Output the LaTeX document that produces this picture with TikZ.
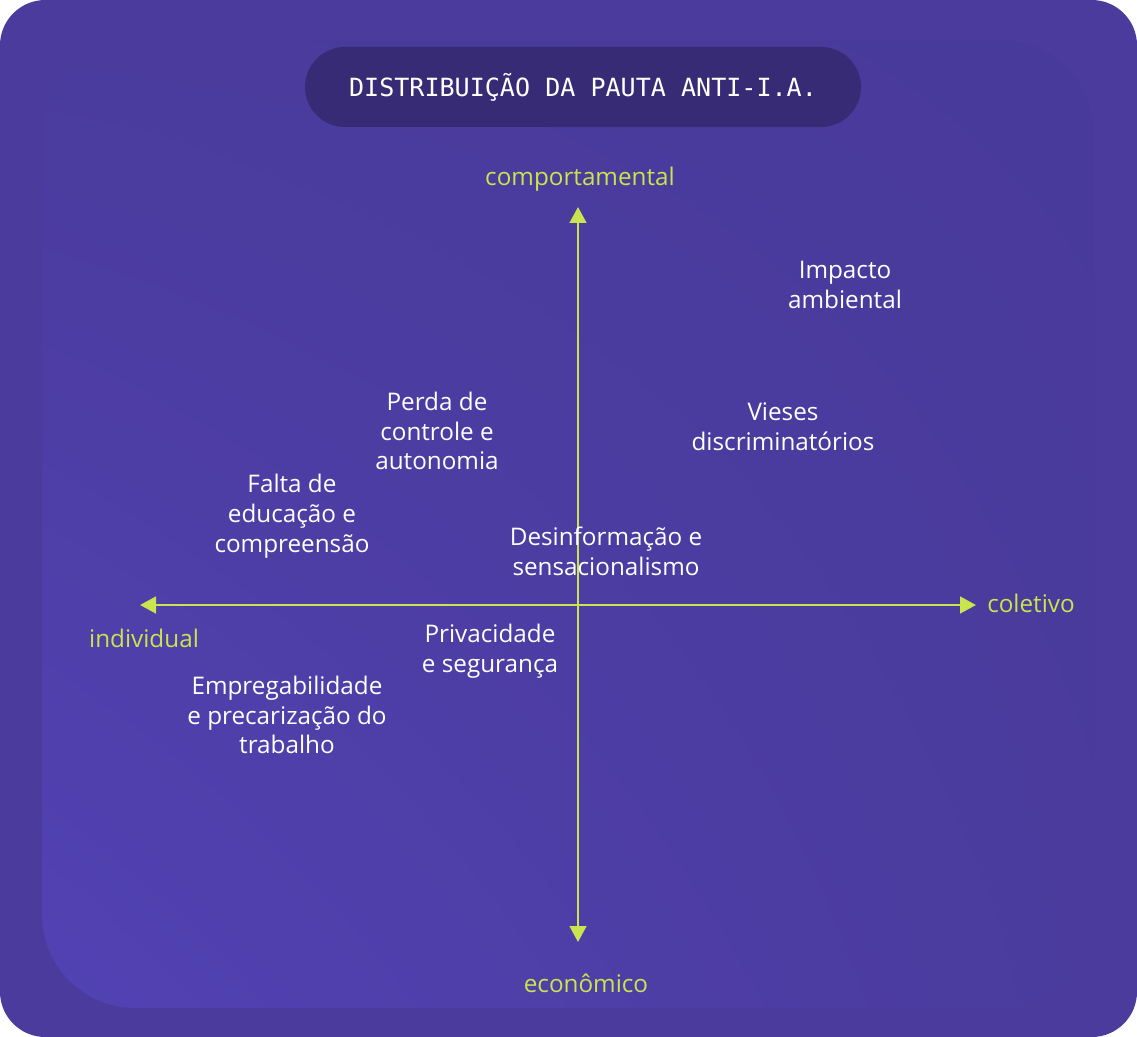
\documentclass[tikz,border=0pt]{standalone}
\usepackage{fontspec}
\setmainfont{Open Sans}
\newfontfamily\monofont{DejaVu Sans Mono}
\usetikzlibrary{arrows.meta,shadings}
\definecolor{fundo}{HTML}{4A3B9D}
\definecolor{painelA}{HTML}{5242B4}
\definecolor{painelB}{HTML}{483A9A}
\definecolor{pilula}{HTML}{372B76}
\definecolor{eixo}{HTML}{C9E44E}
\tikzset{
  pauta/.style={text=white,align=center,font=\fontsize{18.2}{22.4}\selectfont},
  rotulo/.style={text=eixo,font=\fontsize{18.2}{20}\selectfont},
}

\begin{document}
\begin{tikzpicture}[x=0.75pt,y=-0.75pt,>={Triangle[length=12pt,width=12.5pt]}]
\useasboundingbox(0,0)rectangle(1137,1037);
\fill[white](0,0)rectangle(1137,1037);
\fill[fundo,rounded corners=34pt](0,0)rectangle(1137,1037);
\shade[rounded corners=70pt,lower left=painelA,upper right=painelB,lower right=fundo,upper left=fundo]
  (42,40)rectangle(1094,1008);
% titulo
\node[fill=pilula,rounded corners=30pt,minimum width=417pt,minimum height=60pt,text=white,
  font=\monofont\fontsize{18.8}{20}\selectfont](titulo)at(583,87){DISTRIBUIÇÃO DA PAUTA ANTI-I.A.};
% eixos
\coordinate(esq)at(140,605);
\coordinate(dir)at(976,605);
\coordinate(topo)at(578,207);
\coordinate(base)at(578,942);
\draw[<->,eixo,line width=1.9pt](esq)--(dir);
\draw[<->,eixo,line width=1.9pt](base)--(topo);
\node[rotulo](comp)at(580,179){comportamental};
\node[rotulo](econ)at(586,983){econômico};
\node[rotulo](indiv)at(144,638){individual};
\node[rotulo](colet)at(1031,603){coletivo};
% pautas
\node[pauta](impacto)at(845,285){Impacto\\ambiental};
\node[pauta](vieses)at(783,427){Vieses\\discriminatórios};
\node[pauta](perda)at(437,431){Perda de\\controle e\\autonomia};
\node[pauta](falta)at(292,516){Falta de\\educação e\\compreensão};
\node[pauta](desinf)at(606,551){Desinformação e\\sensacionalismo};
\node[pauta](priv)at(490,651){Privacidade\\e segurança};
\node[pauta](empreg)at(287,715){Empregabilidade\\e precarização do\\trabalho};
\end{tikzpicture}
\end{document}
